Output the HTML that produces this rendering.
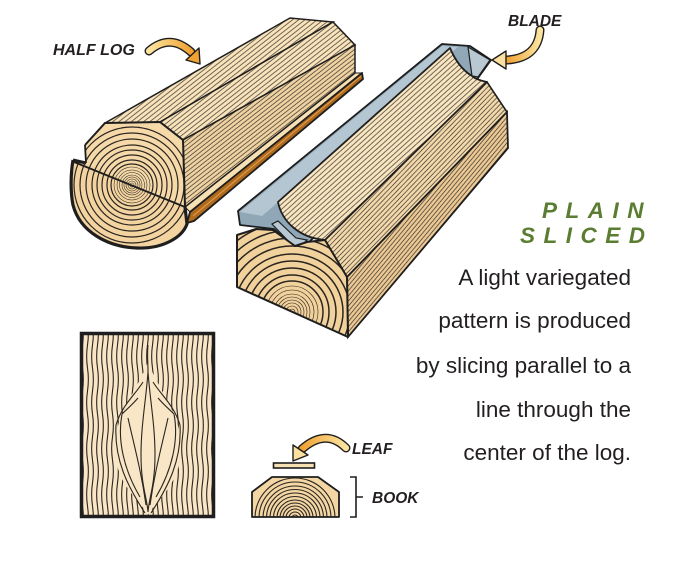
<!DOCTYPE html>
<html><head><meta charset="utf-8"><style>
html,body{margin:0;padding:0;background:#fff;}
svg{display:block;}
text{font-family:"Liberation Sans",Arial,sans-serif;}
</style></head><body>
<svg width="700" height="566" viewBox="0 0 700 566" xmlns="http://www.w3.org/2000/svg">
<defs>
  <pattern id="g1" patternUnits="userSpaceOnUse" width="10" height="3.8" patternTransform="rotate(-38)">
    <rect width="10" height="3.8" fill="#f8e3bb"/><line x1="0" y1="1.9" x2="10" y2="1.9" stroke="#2a2520" stroke-width="0.65"/>
  </pattern>
  <pattern id="g1s" patternUnits="userSpaceOnUse" width="10" height="3.5" patternTransform="rotate(-38)">
    <rect width="10" height="3.5" fill="#f0d3a2"/><line x1="0" y1="1.75" x2="10" y2="1.75" stroke="#2a2520" stroke-width="0.65"/>
  </pattern>
  <pattern id="g2" patternUnits="userSpaceOnUse" width="10" height="3.8" patternTransform="rotate(-42)">
    <rect width="10" height="3.8" fill="#f9e6c0"/><line x1="0" y1="1.9" x2="10" y2="1.9" stroke="#2a2520" stroke-width="0.65"/>
  </pattern>
  <pattern id="g2t" patternUnits="userSpaceOnUse" width="10" height="3.5" patternTransform="rotate(-46)">
    <rect width="10" height="3.5" fill="#f3d9ab"/><line x1="0" y1="1.75" x2="10" y2="1.75" stroke="#2a2520" stroke-width="0.65"/>
  </pattern>
  <pattern id="g2s" patternUnits="userSpaceOnUse" width="10" height="3.3" patternTransform="rotate(-50)">
    <rect width="10" height="3.3" fill="#ecc995"/><line x1="0" y1="1.65" x2="10" y2="1.65" stroke="#2a2520" stroke-width="0.65"/>
  </pattern>
  <pattern id="ven" patternUnits="userSpaceOnUse" width="5" height="46">
    <rect width="5" height="46" fill="#f8e6c6"/>
    <path d="M2.5,0 Q4.2,11.5 2.5,23 Q0.8,34.5 2.5,46" fill="none" stroke="#2a2520" stroke-width="1.1"/>
  </pattern>
  <linearGradient id="arr" x1="0" y1="0" x2="1" y2="0">
    <stop offset="0" stop-color="#fbe4a0"/><stop offset="1" stop-color="#f0a233"/>
  </linearGradient>
  <linearGradient id="arr2" x1="1" y1="0" x2="0" y2="0">
    <stop offset="0" stop-color="#fbe4a0"/><stop offset="1" stop-color="#f0a233"/>
  </linearGradient>
  <clipPath id="cHalf">
    <path d="M73,160 L86,163 L185,207 L187,224 C182,238 162,249 137,248 C108,247 80,232 73,205 C70,190 71,172 73,160 Z"/>
    <path d="M85,145 L105,123 L160,122 L183,140 L185,207 L86,163 Z"/>
  </clipPath>
  <clipPath id="cRight">
    <path d="M237,235 L256,229 L273,230 L295,246 L307,242 L325,240 L347,277 L348,337 L237,287 Z"/>
  </clipPath>
  <clipPath id="cBook">
    <path d="M252,492 L272,477 L318,477 L339,492 L339,517 L252,517 Z"/>
  </clipPath>
</defs>

<!-- ================= HALF LOG ================= -->
<polygon points="185,207 355,73 362,73 190,212" fill="#f6e0b4" stroke="#1e1e1e" stroke-width="1"/>
<polygon points="190,212 362,73 363,79 194,221 187,223" fill="#b06a1e" stroke="#1e1e1e" stroke-width="1.8" stroke-linejoin="round"/>
<line x1="193" y1="216" x2="361" y2="76" stroke="#e0a050" stroke-width="1"/>
<polygon points="105,123 290,18 333,22 160,122" fill="url(#g1)" stroke="#1e1e1e" stroke-width="1.5"/>
<polygon points="160,122 333,22 355,45 183,140" fill="url(#g1)" stroke="#1e1e1e" stroke-width="1.5"/>
<polygon points="183,140 355,45 355,73 185,207" fill="url(#g1s)" stroke="#1e1e1e" stroke-width="1.5"/>
<g>
  <path d="M73,160 L86,163 L185,207 L187,224 C182,238 162,249 137,248 C108,247 80,232 73,205 C70,190 71,172 73,160 Z" fill="#f3d4a0"/>
  <path d="M85,145 L105,123 L160,122 L183,140 L185,207 L86,163 Z" fill="#f5d9a8"/>
  <g clip-path="url(#cHalf)" fill="none" stroke="#2a2520">
    <g stroke-width="0.55">
      <circle cx="132" cy="185" r="2"/><circle cx="132" cy="185" r="4"/><circle cx="132" cy="185" r="6"/>
      <circle cx="132" cy="185" r="8"/><circle cx="132" cy="185" r="10"/><circle cx="132" cy="185" r="12.5"/>
      <circle cx="132" cy="185" r="15"/><circle cx="132" cy="185" r="18"/>
    </g>
    <g stroke-width="1.2">
      <circle cx="132" cy="185" r="21"/><circle cx="132" cy="185" r="25"/><circle cx="132" cy="185" r="30"/>
      <circle cx="132" cy="185" r="35"/><circle cx="132" cy="185" r="40"/><circle cx="132" cy="185" r="46"/>
      <circle cx="132" cy="185" r="52"/><circle cx="132" cy="185" r="58"/>
    </g>
  </g>
  <path d="M85,145 L105,123 L160,122 L183,140 L185,207" fill="none" stroke="#1e1e1e" stroke-width="2"/>
  <line x1="74" y1="162" x2="185" y2="207" stroke="#1e1e1e" stroke-width="1.8"/>
  <line x1="85" y1="145" x2="86" y2="163" stroke="#1e1e1e" stroke-width="1.8"/>
  <path d="M73,160 L86,163 M185,207 L187,224 C182,238 162,249 137,248 C108,247 80,232 73,205 C70,190 71,172 73,160" fill="none" stroke="#1e1e1e" stroke-width="3.2" stroke-linejoin="round"/>
</g>

<!-- ================= RIGHT LOG ================= -->
<polygon points="238,211 442,44 470,46 491,60 478,78 305,246 295,247 274,229 240,225" fill="#8fa7b6" stroke="#1e1e1e" stroke-width="1.8" stroke-linejoin="round"/>
<polygon points="240,212 442,46 458,47 262,216" fill="#b3c6d1"/>
<polygon points="272,224 278,221 296,238 307,240 300,247 294,247" fill="#b8c9d3" stroke="#1e1e1e" stroke-width="1.2"/>
<polygon points="468,47 490,60 478,77 472,76" fill="#b8c9d3" stroke="#1e1e1e" stroke-width="1.2"/>
<path d="M278,202 C282,222 300,238 325,240 L487,82 C478,80 474,78 472,76 C462,70 455,60 450,48 Z" fill="url(#g2)" stroke="#1e1e1e" stroke-width="1.8" stroke-linejoin="round"/>
<polygon points="325,240 347,277 507,112 487,82" fill="url(#g2t)" stroke="#1e1e1e" stroke-width="1.6"/>
<polygon points="347,277 348,337 508,148 507,112" fill="url(#g2s)" stroke="#1e1e1e" stroke-width="1.8"/>
<path d="M237,235 L256,229 L273,230 L295,246 L307,242 L325,240 L347,277 L348,337 L237,287 Z" fill="#f2d29c"/>
<g clip-path="url(#cRight)" fill="none" stroke="#2a2520">
  <g stroke-width="0.6">
    <circle cx="292" cy="312" r="3"/><circle cx="292" cy="312" r="6"/><circle cx="292" cy="312" r="9"/>
    <circle cx="292" cy="312" r="12"/><circle cx="292" cy="312" r="15"/><circle cx="292" cy="312" r="18"/>
    <circle cx="292" cy="312" r="22"/><circle cx="292" cy="312" r="26"/>
  </g>
  <g stroke-width="1.5">
    <circle cx="292" cy="312" r="31"/><circle cx="292" cy="312" r="37"/><circle cx="292" cy="312" r="44"/>
    <circle cx="292" cy="312" r="51"/><circle cx="292" cy="312" r="58"/><circle cx="292" cy="312" r="66"/>
    <circle cx="292" cy="312" r="74"/><circle cx="292" cy="312" r="82"/><circle cx="292" cy="312" r="90"/>
  </g>
</g>
<path d="M237,235 L256,229 L273,230 L295,246 L307,242 L325,240 L347,277 L348,337 L237,287 Z" fill="none" stroke="#1e1e1e" stroke-width="2" stroke-linejoin="round"/>

<!-- ================= VENEER PANEL ================= -->
<rect x="81.5" y="333.5" width="132" height="183" fill="url(#ven)"/>
<path d="M148,362 C135,395 114,415 115,450 C116,485 140,500 148,515 C156,500 180,485 181,450 C182,415 161,395 148,362 Z" fill="#f8e6c6"/>
<g fill="none" stroke="#2a2520" stroke-width="1.1">
  <path d="M148,372 C146,400 141,425 141,455 C141,485 147,498 148,512 C149,498 155,485 155,455 C155,425 150,400 148,372 Z"/>
  <path d="M148,345 C147,355 148,362 148,372"/>
  <path d="M128,418 C134,445 141,470 146,505"/>
  <path d="M168,418 C162,445 155,470 150,505"/>
  <path d="M122,414 C117,440 124,470 140,497"/>
  <path d="M174,414 C179,440 172,470 156,497"/>
  <path d="M116,425 C114,460 128,487 145,513"/>
  <path d="M180,425 C182,460 168,487 151,513"/>
  <path d="M138,398 C132,405 126,410 122,414"/>
  <path d="M158,398 C164,405 170,410 174,414"/>
  <path d="M143,382 C135,395 122,405 116,425"/>
  <path d="M153,382 C161,395 174,405 180,425"/>
</g>
<rect x="81.5" y="333.5" width="132" height="183" fill="none" stroke="#1e1e1e" stroke-width="3.5"/>

<!-- ================= BOOK & LEAF ================= -->
<rect x="273.5" y="463" width="41" height="5" fill="#f6e0b4" stroke="#1e1e1e" stroke-width="1.6"/>
<path d="M252,492 L272,477 L318,477 L339,492 L339,517 L252,517 Z" fill="#f3d6a4"/>
<g clip-path="url(#cBook)" fill="none" stroke="#2a2520" stroke-width="1.1">
  <circle cx="295" cy="518" r="3"/><circle cx="295" cy="518" r="6"/><circle cx="295" cy="518" r="9"/>
  <circle cx="295" cy="518" r="12"/><circle cx="295" cy="518" r="15"/><circle cx="295" cy="518" r="18"/>
  <circle cx="295" cy="518" r="21.5"/><circle cx="295" cy="518" r="25"/><circle cx="295" cy="518" r="28.5"/>
  <circle cx="295" cy="518" r="32"/><circle cx="295" cy="518" r="36"/><circle cx="295" cy="518" r="40"/>
</g>
<path d="M252,492 L272,477 L318,477 L339,492 L339,517 L252,517 Z" fill="none" stroke="#1e1e1e" stroke-width="1.8" stroke-linejoin="round"/>
<path d="M350,477 L356,477 L356,517 L350,517 M356,497 L363,497" fill="none" stroke="#1e1e1e" stroke-width="1.6"/>

<!-- ================= ARROWS ================= -->
<path d="M149,51 Q170,33 191,52" fill="none" stroke="#1e1e1e" stroke-width="9" stroke-linecap="round"/>
<path d="M149,51 Q170,33 191,52" fill="none" stroke="url(#arr)" stroke-width="6.2" stroke-linecap="round"/>
<polygon points="200,64 199,48 186,60" fill="#f0a233" stroke="#1e1e1e" stroke-width="1.4" stroke-linejoin="round"/>
<path d="M540,30 Q538,58 507,60" fill="none" stroke="#1e1e1e" stroke-width="9" stroke-linecap="round"/>
<path d="M540,30 Q538,58 507,60" fill="none" stroke="url(#arr2)" stroke-width="6.2" stroke-linecap="round"/>
<polygon points="492,60 506,51 506,69" fill="#fbe0a0" stroke="#1e1e1e" stroke-width="1.4" stroke-linejoin="round"/>
<path d="M346,448 Q326,428 302,449" fill="none" stroke="#1e1e1e" stroke-width="9" stroke-linecap="round"/>
<path d="M346,448 Q326,428 302,449" fill="none" stroke="url(#arr2)" stroke-width="6.2" stroke-linecap="round"/>
<polygon points="293,461 293,445 308,455" fill="#fbe0a0" stroke="#1e1e1e" stroke-width="1.4" stroke-linejoin="round"/>

<!-- ================= TEXT ================= -->
<g font-weight="bold" font-style="italic" fill="#231f20">
  <text x="53" y="55" font-size="16">HALF LOG</text>
  <text x="508" y="26" font-size="15.5">BLADE</text>
  <text x="352" y="454" font-size="15.5">LEAF</text>
  <text x="372" y="503" font-size="15.5">BOOK</text>
</g>
<g font-weight="bold" font-style="italic" fill="#5a7d31" font-size="22.5" letter-spacing="8.5">
  <text x="542" y="218">PLAIN</text>
  <text x="520" y="243">SLICED</text>
</g>
<g fill="#231f20" font-size="22.5" text-anchor="end">
  <text x="631" y="285">A light variegated</text>
  <text x="631" y="328">pattern is produced</text>
  <text x="631" y="373">by slicing parallel to a</text>
  <text x="631" y="417">line through the</text>
  <text x="631" y="460">center of the log.</text>
</g>
</svg>
</body></html>
